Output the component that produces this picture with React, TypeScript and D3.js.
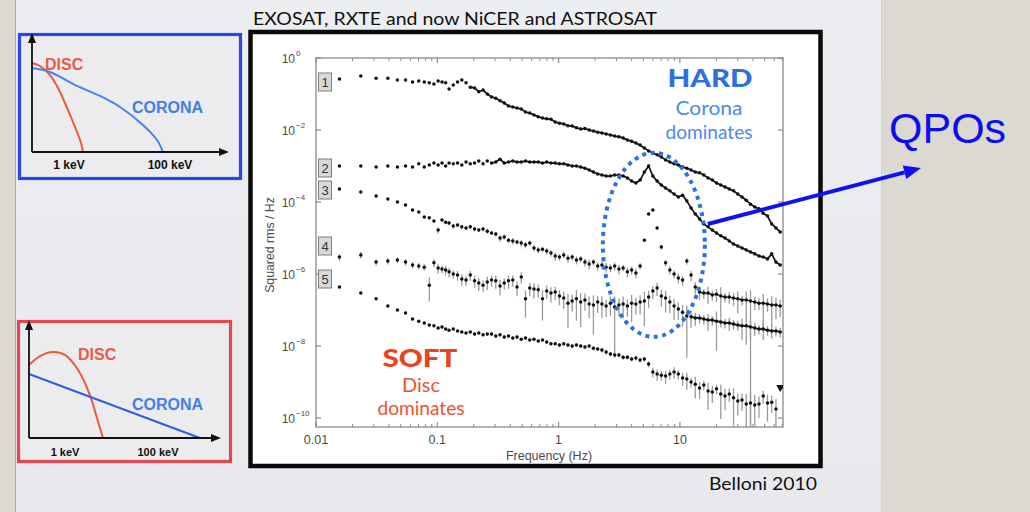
import React from "react";
import * as d3 from "d3";

// Fourier frequencies of the power density spectra (Hz)
const freqHz = [
  0.0156, 0.0234, 0.0313, 0.0391, 0.0469, 0.0547, 0.0625, 0.0703, 0.0781, 0.0859,
  0.0938, 0.1016, 0.1094, 0.1172, 0.125, 0.1355, 0.1469, 0.1592, 0.1726, 0.1871,
  0.2028, 0.2198, 0.2383, 0.2583, 0.28, 0.3035, 0.329, 0.3566, 0.3865, 0.419,
  0.4541, 0.4922, 0.5335, 0.5783, 0.6268, 0.6794, 0.7364, 0.7982, 0.8652, 0.9378,
  1.0165, 1.1018, 1.1943, 1.2945, 1.4032, 1.5209, 1.6486, 1.7869, 1.9369, 2.0994,
  2.2756, 2.4666, 2.6736, 2.898, 3.1412, 3.4048, 3.6906, 4.0003, 4.336, 4.7,
  5.0944, 5.522, 5.9854, 6.4877, 7.0322, 7.6224, 8.2621, 8.9555, 9.7071, 10.522,
  11.405, 12.362, 13.399, 14.524, 15.743, 17.064, 18.496, 20.048, 21.731, 23.554,
  25.531, 27.674, 29.996, 32.514, 35.242, 38.2, 41.406, 44.881, 48.647, 52.73,
  57.155, 61.952, 67.151,
];

// log10 of squared rms / Hz for each spectrum (offset for clarity)
const band1Log = [
  -0.58, -0.5, -0.56, -0.56, -0.61, -0.61, -0.67, -0.64, -0.67, -0.69,
  -0.72, -0.64, -0.67, -0.69, -0.86, -0.75, -0.67, -0.61, -0.69, -0.81,
  -0.83, -0.94, -0.89, -1.0, -1.08, -1.12, -1.19, -1.25, -1.33, -1.36,
  -1.39, -1.42, -1.5, -1.53, -1.58, -1.63, -1.67, -1.69, -1.7, -1.78,
  -1.81, -1.83, -1.88, -1.89, -1.94, -1.97, -1.96, -2.0, -2.03, -2.06,
  -2.08, -2.11, -2.14, -2.17, -2.19, -2.22, -2.28, -2.31, -2.36, -2.42,
  -2.5, -2.58, -2.64, -2.69, -2.75, -2.83, -2.89, -2.94, -2.97, -3.03,
  -3.06, -3.11, -3.17, -3.19, -3.25, -3.33, -3.39, -3.47, -3.53, -3.58,
  -3.64, -3.69, -3.78, -3.86, -3.95, -4.06, -4.14, -4.19, -4.31, -4.39,
  -4.61, -4.72, -4.83,
];
const band2Log = [
  -3.0, -3.0, -3.03, -3.0, -3.03, -3.0, -3.03, -2.94, -3.03, -2.97,
  -2.92, -2.97, -2.92, -3.0, -2.92, -2.94, -2.92, -2.97, -2.89, -2.94,
  -2.92, -2.86, -2.94, -2.86, -2.92, -2.89, -2.81, -2.92, -2.89, -2.86,
  -2.89, -2.89, -2.86, -2.89, -2.89, -2.89, -2.92, -2.89, -2.92, -2.92,
  -2.94, -2.94, -2.97, -3.0, -3.0, -3.03, -3.06, -3.11, -3.17, -3.22,
  -3.25, -3.28, -3.28, -3.25, -3.25, -3.28, -3.33, -3.42, -3.47, -3.39,
  -3.17, -3.0, -3.28, -3.42, -3.53, -3.61, -3.69, -3.78, -3.86, -3.81,
  -3.97, -4.17, -4.33, -4.47, -4.61, -4.69, -4.78, -4.86, -4.94, -5.0,
  -5.08, -5.17, -5.22, -5.28, -5.33, -5.39, -5.44, -5.5, -5.53, -5.58,
  -5.44, -5.67, -5.75,
];
const band3Log = [
  -3.64, -3.72, -3.83, -3.92, -4.0, -4.08, -4.22, -4.28, -4.42, -4.44,
  -4.53, -4.78, -4.5, -4.56, -4.58, -4.67, -4.64, -4.69, -4.72, -4.69,
  -4.75, -4.78, -4.75, -4.81, -4.86, -4.89, -5.0, -4.97, -5.06, -5.08,
  -5.11, -5.14, -5.19, -5.14, -5.28, -5.33, -5.31, -5.36, -5.42, -5.5,
  -5.53, -5.47, -5.56, -5.53, -5.61, -5.58, -5.67, -5.72, -5.67, -5.78,
  -5.75, -5.81, -5.83, -5.78, -5.86, -5.83, -5.94, -5.89, -5.97, -5.78,
  -5.06, -4.33, -4.22, -4.72, -5.25, -5.69, -5.89, -6.0, -6.11, -6.17,
  -5.64, -6.03, -6.36, -6.5, -6.53, -6.53, -6.58, -6.56, -6.61, -6.64,
  -6.64, -6.67, -6.69, -6.72, -6.72, -6.75, -6.78, -6.81, -6.81, -6.83,
  -6.86, -6.86, -6.89,
];
const band4Log = [
  -5.53, -5.47, -5.67, -5.64, -5.61, -5.67, -5.75, -5.78, -5.81, -6.31,
  -5.69, -5.83, -5.86, -5.89, -5.94, -6.0, -6.03, -6.14, -6.17, -6.03,
  -6.19, -6.25, -6.31, -6.22, -6.17, -6.19, -6.33, -6.25, -6.19, -6.17,
  -6.36, -6.08, -6.69, -6.39, -6.42, -6.44, -6.69, -6.47, -6.53, -6.5,
  -6.61, -6.67, -6.81, -6.75, -6.69, -6.78, -6.72, -6.83, -6.86, -6.78,
  -6.83, -6.89, -6.81, -6.92, -6.86, -6.83, -6.89, -6.81, -6.83, -6.78,
  -6.75, -6.64, -6.47, -6.39, -6.61, -6.67, -6.78, -6.89, -6.97, -7.06,
  -7.17, -7.19, -7.22, -7.22, -7.25, -7.28, -7.28, -7.31, -7.33, -7.36,
  -7.36, -7.39, -7.42, -7.44, -7.44, -7.47, -7.5, -7.53, -7.53, -7.56,
  -7.58, -7.58, -7.61,
];
const band5Log = [
  -6.36, -6.53, -6.69, -6.89, -7.0, -7.08, -7.25, -7.31, -7.36, -7.42,
  -7.44, -7.5, -7.47, -7.53, -7.56, -7.53, -7.58, -7.61, -7.64, -7.61,
  -7.67, -7.64, -7.69, -7.67, -7.67, -7.72, -7.69, -7.75, -7.72, -7.78,
  -7.75, -7.81, -7.78, -7.83, -7.81, -7.86, -7.83, -7.89, -7.94, -7.94,
  -7.97, -7.94, -7.97, -8.0, -7.97, -8.0, -8.03, -8.0, -8.06, -8.08,
  -8.11, -8.17, -8.22, -8.25, -8.25, -8.31, -8.31, -8.36, -8.33, -8.39,
  -8.36, -8.5, -8.72, -8.78, -8.81, -8.83, -8.78, -8.72, -8.78, -8.89,
  -8.92, -9.0, -9.06, -9.17, -9.08, -9.25, -9.28, -9.19, -9.33, -9.39,
  -9.33, -9.44, -9.53, -9.5, -9.61, -9.58, -9.64, -9.61, -9.39, -9.58,
  -9.56, -9.75, -9.17,
];
// the last bin of spectrum 5 is an upper limit
const band5UpperLimitIndex = 92;

// fractional 1-sigma uncertainties
const band3Err = [
  0.08, 0.08, 0.08, 0.08, 0.08, 0.08, 0.08, 0.08, 0.08, 0.08,
  0.08, 0.2, 0.12, 0.12, 0.12, 0.15, 0.12, 0.15, 0.12, 0.15,
  0.15, 0.12, 0.15, 0.15, 0.12, 0.15, 0.2, 0.15, 0.15, 0.2,
  0.15, 0.2, 0.2, 0.15, 0.2, 0.2, 0.15, 0.2, 0.2, 0.25,
  0.2, 0.2, 0.25, 0.2, 0.25, 0.2, 0.25, 0.3, 0.2, 0.25,
  0.25, 0.3, 0.25, 0.25, 0.3, 0.2, 0.3, 0.25, 0.3, 0.2,
  0.1, 0.08, 0.08, 0.1, 0.15, 0.2, 0.25, 0.25, 0.3, 0.3,
  0.2, 0.3, 0.35, 0.4, 0.3, 0.5, 0.3, 0.4, 0.75, 0.3,
  0.35, 0.4, 0.6, 0.3, 0.7, 1.0, 0.4, 0.35, 0.8, 0.4,
  0.75, 0.6, 0.5,
];
const band4Err = [
  0.2, 0.2, 0.2, 0.2, 0.2, 0.2, 0.2, 0.2, 0.2, 0.65,
  0.25, 0.3, 0.25, 0.3, 0.3, 0.25, 0.3, 0.35, 0.3, 0.3,
  0.35, 0.4, 0.35, 0.4, 0.35, 0.4, 0.45, 0.35, 0.4, 0.35,
  0.45, 0.35, 0.7, 0.4, 0.45, 0.4, 0.75, 0.4, 0.45, 0.4,
  0.45, 0.5, 0.8, 0.5, 0.75, 0.8, 0.5, 0.6, 0.85, 0.5,
  0.6, 0.5, 0.55, 0.96, 0.5, 0.6, 0.5, 0.7, 0.5, 0.55,
  0.8, 0.5, 0.4, 0.4, 0.5, 0.6, 0.5, 0.6, 0.5, 0.6,
  0.93, 0.5, 0.4, 0.3, 0.3, 0.5, 0.3, 0.85, 0.3, 0.3,
  0.4, 0.3, 0.3, 0.6, 0.7, 0.5, 0.4, 0.3, 0.5, 0.3,
  0.4, 0.3, 0.3,
];
const band5Err = [
  0.08, 0.08, 0.08, 0.08, 0.08, 0.08, 0.08, 0.08, 0.08, 0.08,
  0.08, 0.08, 0.08, 0.08, 0.08, 0.08, 0.08, 0.08, 0.08, 0.08,
  0.1, 0.1, 0.1, 0.1, 0.1, 0.1, 0.1, 0.1, 0.1, 0.1,
  0.1, 0.1, 0.1, 0.1, 0.1, 0.1, 0.1, 0.1, 0.1, 0.1,
  0.12, 0.12, 0.12, 0.12, 0.12, 0.12, 0.12, 0.12, 0.12, 0.12,
  0.15, 0.15, 0.15, 0.15, 0.15, 0.15, 0.15, 0.15, 0.15, 0.15,
  0.15, 0.2, 0.3, 0.35, 0.3, 0.4, 0.3, 0.35, 0.3, 0.4,
  0.5, 0.3, 0.6, 0.5, 0.3, 0.7, 0.5, 0.3, 0.8, 0.6,
  0.4, 0.85, 0.6, 0.5, 0.9, 1.0, 0.9, 0.6, 0.4, 0.7,
  0.5, 0.9, 0,
];

const xTickValues = [0.01, 0.1, 1, 10];
const xTickLabels = ["0.01", "0.1", "1", "10"];
const yTickExponents = [0, -2, -4, -6, -8, -10];

// schematic spectra for the two state sketches (energy, flux in arbitrary units)
const hardDisc = [[0, 0.817], [0.041, 0.789], [0.092, 0.706], [0.133, 0.587], [0.179, 0.404], [0.209, 0.275], [0.23, 0.183], [0.25, 0.083], [0.26, 0]];
const hardCorona = [[0, 0.771], [0.092, 0.734], [0.23, 0.606], [0.347, 0.514], [0.449, 0.413], [0.566, 0.248], [0.638, 0.11], [0.668, 0]];
const softDisc = [[0, 0.676], [0.058, 0.759], [0.126, 0.796], [0.188, 0.769], [0.257, 0.63], [0.319, 0.398], [0.356, 0.185], [0.387, 0]];
const softCorona = [[0, 0.593], [0.895, 0]];

const AXIS = "#8a8a8a";
const TICKTXT = "#4a4a4a";
const HELV = "'Liberation Sans', Arial, Helvetica, sans-serif";
const GILL = "Lato, 'Open Sans', sans-serif";

const x = d3.scaleLog().domain([0.01, 70.8]).range([316, 783]);
const y = d3.scaleLog().domain([Math.pow(10, -10.25), 1]).range([427, 58]);

type Band = { id: string; logs: number[]; err: number[] | null; joinFrom: number | null; joinWidth: number };
const bands: Band[] = [
  { id: "1", logs: band1Log, err: null, joinFrom: 19, joinWidth: 1.7 },
  { id: "2", logs: band2Log, err: null, joinFrom: 24, joinWidth: 1.7 },
  { id: "3", logs: band3Log, err: band3Err, joinFrom: 73, joinWidth: 1.2 },
  { id: "4", logs: band4Log, err: band4Err, joinFrom: 71, joinWidth: 1.8 },
  { id: "5", logs: band5Log, err: band5Err, joinFrom: null, joinWidth: 0 },
];

const labelBoxes = [
  { id: "1", cy: 82 },
  { id: "2", cy: 168 },
  { id: "3", cy: 190 },
  { id: "4", cy: 246 },
  { id: "5", cy: 279 },
];

function Sketch({ frame, x0, y0, x1, y1, disc, corona, discLabel, coronaLabel, keV1, keV100, labelSize }: any) {
  const sx = d3.scaleLinear().domain([0, 1]).range([x0, x1]);
  const sy = d3.scaleLinear().domain([0, 1]).range([y0, y1]);
  const line = d3.line<number[]>().x((d) => sx(d[0])).y((d) => sy(d[1])).curve(d3.curveCatmullRom.alpha(0.5));
  return (
    <g>
      <rect x={frame.x} y={frame.y} width={frame.w} height={frame.h} fill="#ececee" stroke={frame.color} strokeWidth={3.2} />
      <path d={line(disc) || ""} fill="none" stroke="#ea5a3f" strokeWidth={2} />
      <path d={line(corona) || ""} fill="none" stroke={frame.coronaColor} strokeWidth={2} />
      <line x1={x0} y1={y0} x2={x0} y2={y1 - 4} stroke="#111" strokeWidth={1.8} />
      <line x1={x0} y1={y0} x2={x1 - 4} y2={y0} stroke="#111" strokeWidth={1.8} />
      <path d={`M${x0},${y1 - 10} L${x0 - 4},${y1} L${x0 + 4},${y1} Z`} fill="#111" transform={`translate(0,0)`} />
      <path d={`M${x1 + 1},${y0} L${x1 - 9},${y0 - 4} L${x1 - 9},${y0 + 4} Z`} fill="#111" />
      <text x={discLabel[0]} y={discLabel[1]} fontFamily={HELV} fontWeight={700} fontSize={16} fill="#ea5a44">DISC</text>
      <text x={coronaLabel[0]} y={coronaLabel[1]} fontFamily={HELV} fontWeight={700} fontSize={16} fill="#3f7fe6">CORONA</text>
      <text x={keV1[0]} y={keV1[1]} fontFamily={HELV} fontWeight={700} fontSize={labelSize} fill="#111" textAnchor="middle">1 keV</text>
      <text x={keV100[0]} y={keV100[1]} fontFamily={HELV} fontWeight={700} fontSize={labelSize} fill="#111" textAnchor="middle">100 keV</text>
    </g>
  );
}

export default function App() {
  const xMinor: number[] = [];
  [0.01, 0.1, 1, 10].forEach((d) => {
    for (let m = 2; m <= 9; m++) if (d * m <= 70.8) xMinor.push(d * m);
  });
  const yBottom = 427;
  const yTop = 58;
  const xLeft = 316;
  const xRight = 783;

  const qpoCx = x(6.1);
  const qpoCy = y(Math.pow(10, -5.19));
  const arrowStart: [number, number] = [x(17.0), y(Math.pow(10, -4.61))];
  const arrowTip: [number, number] = [921, 168];
  const ang = Math.atan2(arrowTip[1] - arrowStart[1], arrowTip[0] - arrowStart[0]);
  const headLen = 17;
  const headHalf = 7;
  const hx = arrowTip[0] - headLen * Math.cos(ang);
  const hy = arrowTip[1] - headLen * Math.sin(ang);
  const px = -Math.sin(ang) * headHalf;
  const py = Math.cos(ang) * headHalf;

  return (
    <svg width={1030} height={512} viewBox="0 0 1030 512" style={{ position: "absolute", left: 0, top: 0, display: "block" }}>
      <defs>
        <clipPath id="plotClip">
          <rect x={xLeft} y={yTop} width={xRight - xLeft} height={yBottom - yTop} />
        </clipPath>
        <linearGradient id="panelGrad" x1="0" y1="0" x2="0" y2="1">
          <stop offset="0" stopColor="#edeef1" />
          <stop offset="1" stopColor="#e7e9ec" />
        </linearGradient>
      </defs>

      {/* table-top background and slide panel */}
      <rect x={0} y={0} width={1030} height={512} fill="#dcd8d2" />
      <rect x={15} y={0} width={867} height={512} fill="url(#panelGrad)" />
      <line x1={15.5} y1={0} x2={15.5} y2={512} stroke="#a9a9a9" strokeWidth={1} />
      <line x1={881.5} y1={0} x2={881.5} y2={512} stroke="#d3d3d3" strokeWidth={1} />

      {/* title */}
      <text x={253} y={25} fontFamily={GILL} fontSize={18} fill="#111" textLength={404} lengthAdjust="spacingAndGlyphs">
        EXOSAT, RXTE and now NiCER and ASTROSAT
      </text>

      {/* state sketches */}
      <Sketch
        frame={{ x: 19.5, y: 34.5, w: 221, h: 144, color: "#2d46ea", coronaColor: "#3f86ee" }}
        x0={32} y0={152} x1={228} y1={43}
        disc={hardDisc} corona={hardCorona}
        discLabel={[45, 70]} coronaLabel={[132, 113]}
        keV1={[69, 169]} keV100={[170, 169]} labelSize={12}
      />
      <Sketch
        frame={{ x: 18.5, y: 321.5, w: 212, h: 140, color: "#e4474f", coronaColor: "#2e5ee6" }}
        x0={29} y0={438} x1={220} y1={330}
        disc={softDisc} corona={softCorona}
        discLabel={[78, 360]} coronaLabel={[132, 410]}
        keV1={[65, 456]} keV100={[158, 456]} labelSize={11}
      />

      {/* figure frame */}
      <rect x={250.5} y={32} width={570} height={434} fill="#fff" stroke="#0a0a0a" strokeWidth={4.5} />

      {/* plot box */}
      <rect x={xLeft} y={yTop} width={xRight - xLeft} height={yBottom - yTop} fill="none" stroke={AXIS} strokeWidth={1.3} />
      {xTickValues.map((v) => (
        <g key={"xt" + v}>
          <line x1={x(v)} x2={x(v)} y1={yBottom} y2={yBottom - 5} stroke={AXIS} strokeWidth={1.2} />
          <line x1={x(v)} x2={x(v)} y1={yTop} y2={yTop + 5} stroke={AXIS} strokeWidth={1.2} />
        </g>
      ))}
      {xMinor.map((v) => (
        <g key={"xm" + v}>
          <line x1={x(v)} x2={x(v)} y1={yBottom} y2={yBottom - 3} stroke={AXIS} strokeWidth={1} />
          <line x1={x(v)} x2={x(v)} y1={yTop} y2={yTop + 3} stroke={AXIS} strokeWidth={1} />
        </g>
      ))}
      {yTickExponents.map((e) => (
        <g key={"yt" + e}>
          <line x1={xLeft} x2={xLeft + 5} y1={y(Math.pow(10, e))} y2={y(Math.pow(10, e))} stroke={AXIS} strokeWidth={1.2} />
          <line x1={xRight} x2={xRight - 5} y1={y(Math.pow(10, e))} y2={y(Math.pow(10, e))} stroke={AXIS} strokeWidth={1.2} />
          <text x={295} y={y(Math.pow(10, e)) + 5} fontFamily={HELV} fontSize={12} fill={TICKTXT} textAnchor="end">10</text>
          <text x={296} y={y(Math.pow(10, e)) - 2} fontFamily={HELV} fontSize={8} fill={TICKTXT}>
            {e === 0 ? "0" : "\u2212" + Math.abs(e)}
          </text>
        </g>
      ))}
      {xTickValues.map((v, i) => (
        <text key={"xl" + v} x={x(v)} y={444} fontFamily={HELV} fontSize={12.5} fill={TICKTXT} textAnchor="middle">
          {xTickLabels[i]}
        </text>
      ))}
      <text x={549} y={460} fontFamily={HELV} fontSize={12.5} fill={TICKTXT} textAnchor="middle">Frequency (Hz)</text>
      <text
        transform={`translate(274,245) rotate(-90)`}
        fontFamily={HELV} fontSize={12.3} fill={TICKTXT} textAnchor="middle"
      >
        Squared rms / Hz
      </text>

      {/* power density spectra */}
      <g clipPath="url(#plotClip)">
        {bands.map((b) =>
          b.err
            ? b.logs.map((lv, i) => {
                const s = b.err![i];
                if (!s) return null;
                const v = Math.pow(10, lv);
                const lo = s >= 1 ? Math.pow(10, -10.25) : v * (1 - s);
                const hi = v * (1 + s);
                return (
                  <line key={b.id + "e" + i} x1={x(freqHz[i])} x2={x(freqHz[i])} y1={y(hi)} y2={y(lo)} stroke="#9a9a9a" strokeWidth={1.3} />
                );
              })
            : null
        )}
        {bands.map((b) =>
          b.joinFrom !== null ? (
            <path
              key={b.id + "join"}
              d={d3.line<number>().x((lv, i) => x(freqHz[i + b.joinFrom!])).y((lv) => y(Math.pow(10, lv)))(b.logs.slice(b.joinFrom!)) || ""}
              fill="none" stroke="#111" strokeWidth={b.joinWidth}
            />
          ) : null
        )}
        {bands.map((b) =>
          b.logs.map((lv, i) => {
            const cx = x(freqHz[i]);
            const cy = y(Math.pow(10, lv));
            if (b.id === "5" && i === band5UpperLimitIndex) {
              return <path key={b.id + "p" + i} d={`M${cx - 4},${cy - 3} L${cx + 4},${cy - 3} L${cx},${cy + 4} Z`} fill="#111" />;
            }
            return <circle key={b.id + "p" + i} cx={cx} cy={cy} r={1.75} fill="#111" />;
          })
        )}
      </g>

      {/* spectrum labels */}
      {labelBoxes.map((lb) => (
        <g key={"lb" + lb.id}>
          <rect x={318.5} y={lb.cy - 9} width={13} height={18} fill="#d9d9d9" stroke="#7d7d7d" strokeWidth={1} />
          <text x={325} y={lb.cy + 5} fontFamily={HELV} fontSize={13} fill="#333" textAnchor="middle">{lb.id}</text>
        </g>
      ))}

      {/* state annotations */}
      <text x={710} y={87} fontFamily={GILL} fontWeight={900} fontSize={24} fill="#2e6fe3" textAnchor="middle" textLength={85} lengthAdjust="spacingAndGlyphs">HARD</text>
      <text x={709} y={115} fontFamily={GILL} fontSize={19} fill="#4a8aea" textAnchor="middle" textLength={67} lengthAdjust="spacingAndGlyphs">Corona</text>
      <text x={709} y={139} fontFamily={GILL} fontSize={19} fill="#4a8aea" textAnchor="middle" textLength={87} lengthAdjust="spacingAndGlyphs">dominates</text>
      <text x={420} y={367} fontFamily={GILL} fontWeight={900} fontSize={24} fill="#e8451f" textAnchor="middle" textLength={75} lengthAdjust="spacingAndGlyphs">SOFT</text>
      <text x={421} y={392} fontFamily={GILL} fontSize={19} fill="#ea5232" textAnchor="middle" textLength={38} lengthAdjust="spacingAndGlyphs">Disc</text>
      <text x={421} y={415} fontFamily={GILL} fontSize={19} fill="#ea5232" textAnchor="middle" textLength={87} lengthAdjust="spacingAndGlyphs">dominates</text>

      {/* QPO region */}
      <ellipse cx={qpoCx} cy={qpoCy} rx={51} ry={92} fill="none" stroke="#2d6fe6" strokeWidth={4} strokeDasharray="4 4.5" />
      <line x1={arrowStart[0]} y1={arrowStart[1]} x2={hx} y2={hy} stroke="#1010f0" strokeWidth={4} />
      <path d={`M${arrowTip[0]},${arrowTip[1]} L${hx + px},${hy + py} L${hx - px},${hy - py} Z`} fill="#1010f0" />
      <text x={889} y={143} fontFamily={HELV} fontSize={43} fill="#0c0cf2">QPOs</text>

      <text x={709} y={490} fontFamily={GILL} fontSize={17} fill="#111" textLength={108} lengthAdjust="spacingAndGlyphs">Belloni 2010</text>
    </svg>
  );
}
